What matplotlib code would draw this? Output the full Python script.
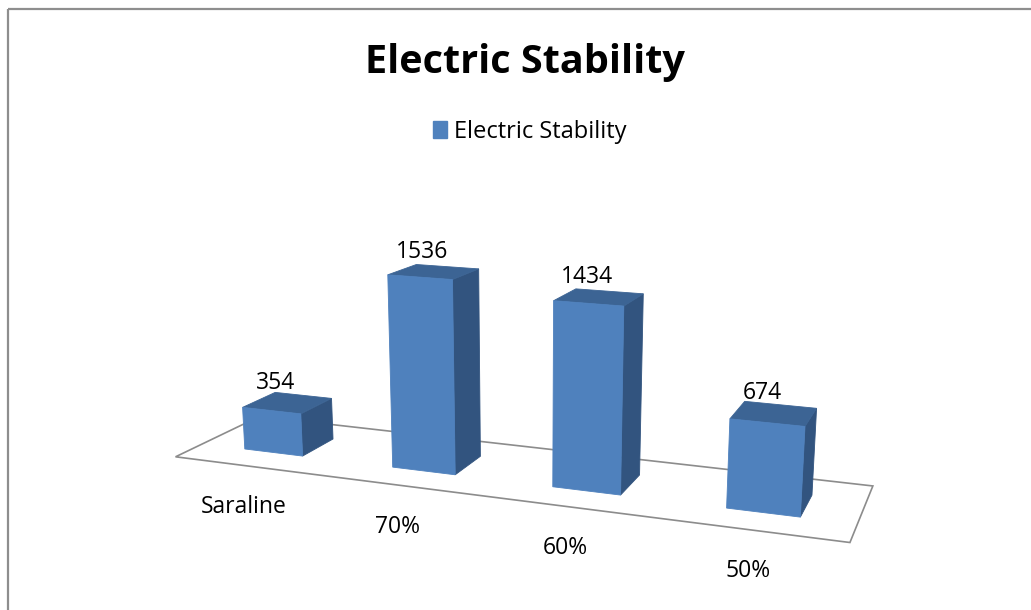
import numpy as np
import matplotlib
matplotlib.use("Agg")
import matplotlib.pyplot as plt
from matplotlib.patches import Polygon, Rectangle, Patch

# ---- data -------------------------------------------------------------
TITLE = "Electric Stability"
SERIES_NAME = "Electric Stability"
CATEGORIES = ["Saraline", "70%", "60%", "50%"]
VALUES = [354, 1536, 1434, 674]

# ---- styling ----------------------------------------------------------
FONT = ["Open Sans", "DejaVu Sans"]
FRONT_COLOR = "#4F81BD"
TOP_COLOR = "#3C6494"
SIDE_COLOR = "#32547F"
FLOOR_EDGE = "#8C8C8C"
FRAME_EDGE = "#8E8E8E"
BAR_WIDTH = 0.4      # share of one category slot (gap width 150%)
BAR_DEPTH = 0.4      # share of the depth slot (gap depth 150%)
LABEL_SIZE = 16.5

# ---- perspective camera (canvas pixels, y downwards) ------------------
CANVAS_W, CANVAS_H = 1031, 610
FOCAL = 1346.4
CENTER = (582.3, 361.5)
LOOK_DOWN = 13.866   # degrees below the horizon
HEADING = 108.747    # degrees, measured from the category axis
ROLL = -0.554
DEPTH_SCALE = 0.9253     # world length of the depth slot per category unit
VALUE_SCALE = 0.000745   # world height per value unit
EYE = (4.7644, -7.0109, 3363.15)   # camera position in (category, depth, value)


def camera_rotation():
    el, hd, rl = np.radians([LOOK_DOWN, HEADING, ROLL])
    fwd = np.array([np.cos(el) * np.cos(hd), np.cos(el) * np.sin(hd), -np.sin(el)])
    right0 = np.cross(fwd, [0.0, 0.0, 1.0])
    right0 /= np.linalg.norm(right0)
    down0 = np.cross(fwd, right0)
    right = np.cos(rl) * right0 + np.sin(rl) * down0
    down = -np.sin(rl) * right0 + np.cos(rl) * down0
    return np.vstack([right, down, fwd])


ROT = camera_rotation()
SCALE = np.array([1.0, DEPTH_SCALE, VALUE_SCALE])
EYE_W = np.array(EYE) * SCALE


def project(points):
    pts = np.asarray(points, float) * SCALE - EYE_W
    cam = pts @ ROT.T
    u = FOCAL * cam[:, 0] / cam[:, 2] + CENTER[0]
    v = FOCAL * cam[:, 1] / cam[:, 2] + CENTER[1]
    return np.column_stack([u, v])


fig = plt.figure(figsize=(CANVAS_W / 100, CANVAS_H / 100), dpi=100)
ax = fig.add_axes([0, 0, 1, 1])
ax.set_xlim(0, CANVAS_W)
ax.set_ylim(CANVAS_H, 0)
ax.axis("off")

# chart frame
ax.add_patch(Rectangle((8, 9), CANVAS_W + 20, CANVAS_H + 20, fill=False,
                       edgecolor=FRAME_EDGE, lw=1.6, clip_on=False))

n = len(CATEGORIES)
# floor of the plot area
floor = project([(0, 0, 0), (n, 0, 0), (n, 1, 0), (0, 1, 0)])
ax.add_patch(Polygon(floor, closed=True, facecolor="white",
                     edgecolor=FLOOR_EDGE, lw=1.2, joinstyle="miter"))

# columns
for i, val in enumerate(VALUES):
    x0 = i + (1 - BAR_WIDTH) / 2
    x1 = x0 + BAR_WIDTH
    y0 = (1 - BAR_DEPTH) / 2
    y1 = y0 + BAR_DEPTH
    faces = [
        ([(x1, y0, 0), (x1, y1, 0), (x1, y1, val), (x1, y0, val)], SIDE_COLOR),
        ([(x0, y0, val), (x1, y0, val), (x1, y1, val), (x0, y1, val)], TOP_COLOR),
        ([(x0, y0, 0), (x1, y0, 0), (x1, y0, val), (x0, y0, val)], FRONT_COLOR),
    ]
    for verts, col in faces:
        ax.add_patch(Polygon(project(verts), closed=True, facecolor=col,
                             edgecolor=col, lw=0.6))
    # value label above the column
    top = project([(i + 0.5, 0.5, val)])[0]
    ax.text(top[0] - 12, top[1] - 14, f"{val}", ha="center", va="baseline",
            fontsize=LABEL_SIZE, family=FONT, color="black")

# category labels along the front edge of the floor
for i, cat in enumerate(CATEGORIES):
    edge = project([(i + 0.5, 0, 0)])[0]
    ax.text(edge[0] - 4.5, edge[1] + 47, cat, ha="center", va="baseline",
            fontsize=LABEL_SIZE, family=FONT, color="black")

# title and legend
fig.text(525 / CANVAS_W, 1 - 63 / CANVAS_H, TITLE, ha="center", va="center",
         fontsize=28.5, fontweight="bold", family=FONT)
fig.legend(handles=[Patch(facecolor=FRONT_COLOR, edgecolor=FRONT_COLOR)],
           labels=[SERIES_NAME], loc="center",
           bbox_to_anchor=(530 / CANVAS_W, 1 - 132 / CANVAS_H),
           frameon=False, prop={"family": FONT, "size": 17},
           handlelength=0.6, handleheight=0.75, handletextpad=0.3,
           borderpad=0, borderaxespad=0)

fig.savefig("out.png", dpi=100)
